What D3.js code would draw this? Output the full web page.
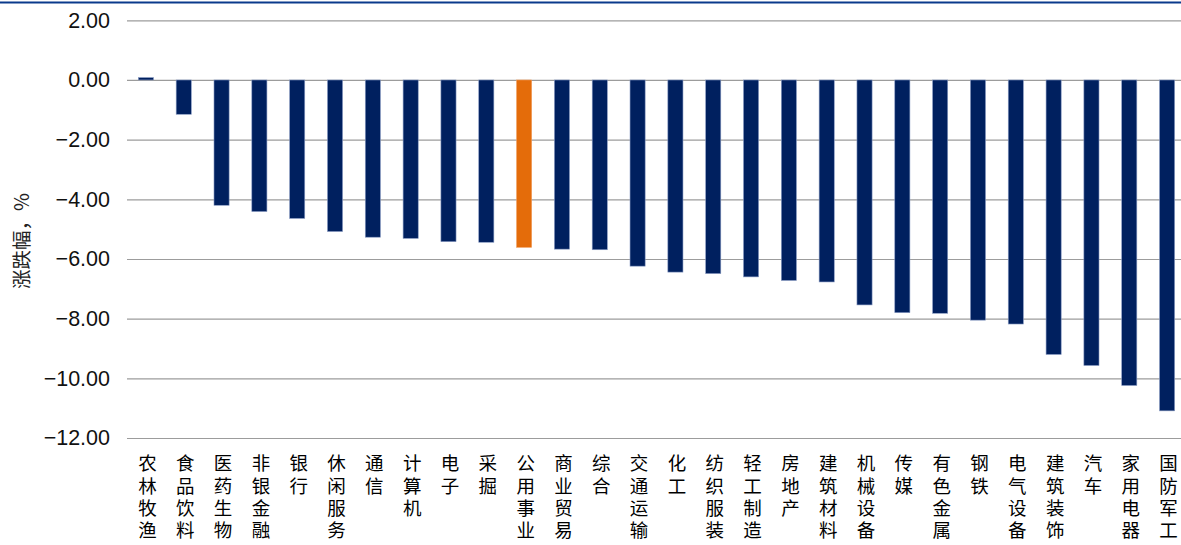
<!DOCTYPE html>
<html>
<head>
<meta charset="utf-8">
<script src="https://cdn.jsdelivr.net/npm/d3@7"></script>
<style>
  html, body { margin: 0; padding: 0; background: #fff; }
  svg { display: block; }
</style>
</head>
<body>
<svg id="chart" width="1181" height="545"></svg>
<script>
// Industry categories (申万一级) and their weekly change, %
const categories = ["农林牧渔","食品饮料","医药生物","非银金融","银行","休闲服务","通信","计算机","电子","采掘",
  "公用事业","商业贸易","综合","交通运输","化工","纺织服装","轻工制造","房地产","建筑材料","机械设备",
  "传媒","有色金属","钢铁","电气设备","建筑装饰","汽车","家用电器","国防军工"];
const changes = [0.08,-1.15,-4.20,-4.41,-4.64,-5.08,-5.27,-5.31,-5.42,-5.44,
  -5.61,-5.67,-5.69,-6.24,-6.44,-6.49,-6.60,-6.72,-6.77,-7.54,
  -7.80,-7.82,-8.05,-8.18,-9.20,-9.57,-10.24,-11.09];
const highlighted = ["公用事业"];
const yTicks = [2,0,-2,-4,-6,-8,-10,-12];
const yTitle = "涨跌幅，%";

const svg = d3.select("#chart");
const W = 1181, H = 545;
const plot = { left: 127, right: 1186, top: 20.3, bottom: 438 };

const x = d3.scaleBand()
  .domain(categories)
  .range([plot.left, plot.right])
  .paddingInner(0.6)
  .paddingOuter(0.3);

const y = d3.scaleLinear()
  .domain([-12, 2])
  .range([plot.bottom, plot.top]);

// top rule
svg.append("line")
  .attr("x1", 0).attr("x2", W)
  .attr("y1", 2.5).attr("y2", 2.5)
  .attr("stroke", "#0a3a8c").attr("stroke-width", 2);

// horizontal gridlines + tick labels via a left axis
const yAxis = d3.axisLeft(y)
  .tickValues(yTicks)
  .tickFormat(d3.format(".2f"))
  .tickSize(-(W - plot.left))
  .tickPadding(17);

const gy = svg.append("g")
  .attr("transform", `translate(${plot.left},0)`)
  .call(yAxis);
gy.select(".domain").remove();
gy.selectAll(".tick line")
  .attr("stroke", "#9c9c9c")
  .attr("stroke-width", 1.2);
gy.selectAll(".tick text")
  .attr("fill", "#111")
  .style("font-family", "'Liberation Sans', Arial, sans-serif")
  .style("font-size", "21.5px");

// bars
svg.append("g")
  .selectAll("rect")
  .data(categories.map((c, i) => ({ c, v: changes[i] })))
  .join("rect")
  .attr("x", d => x(d.c))
  .attr("width", x.bandwidth())
  .attr("y", d => y(Math.max(0, d.v)))
  .attr("height", d => Math.abs(y(d.v) - y(0)))
  .attr("fill", d => highlighted.includes(d.c) ? "#e46c0a" : "#00205f")
  .attr("stroke", d => highlighted.includes(d.c) ? "#f0a060" : "#8a9cc4")
  .attr("stroke-width", 0.6);

// vertical category labels, written top-to-bottom
svg.append("g")
  .selectAll("text")
  .data(categories)
  .join("text")
  .attr("x", c => x(c) + x.bandwidth() / 2 + 1.5)
  .attr("y", 454)
  .attr("writing-mode", "vertical-rl")
  .style("font-family", "'Noto Sans CJK SC', sans-serif")
  .style("font-size", "18.5px")
  .style("letter-spacing", "3.8px")
  .attr("fill", "#000")
  .text(c => c);

// y-axis title
svg.append("text")
  .attr("transform", `translate(29,${241}) rotate(-90)`)
  .attr("text-anchor", "middle")
  .style("font-family", "'Noto Sans CJK SC', sans-serif")
  .style("font-size", "19.5px")
  .attr("fill", "#222")
  .text(yTitle);
</script>
</body>
</html>
